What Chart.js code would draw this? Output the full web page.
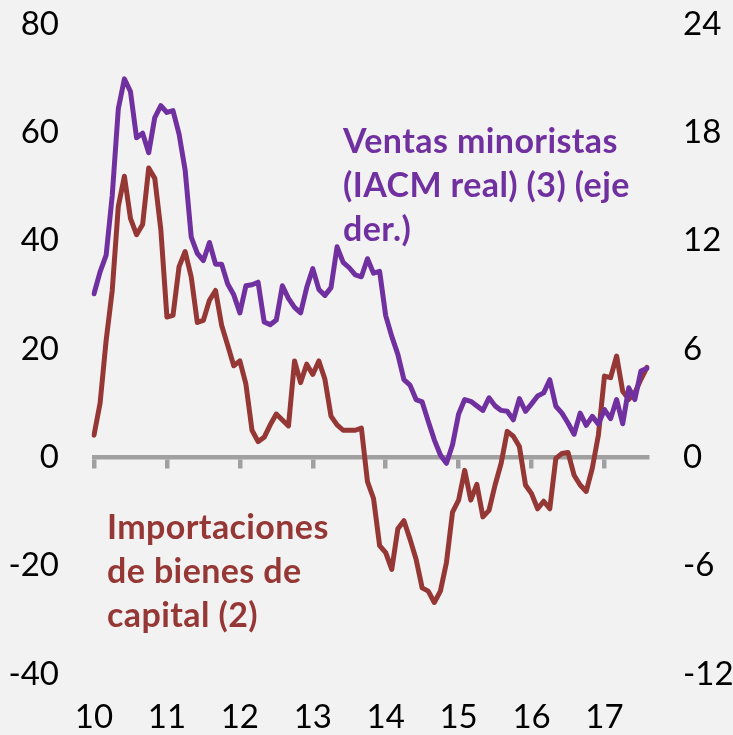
<!DOCTYPE html>
<html>
<head>
<meta charset="utf-8">
<script src="https://cdn.jsdelivr.net/npm/chart.js@4.4.1/dist/chart.umd.min.js"></script>
<style>
  html, body { margin: 0; padding: 0; background: #f2f2f2; }
  #wrap { position: relative; width: 733px; height: 735px; background: #f2f2f2; overflow: hidden; }
  canvas { position: absolute; left: 0; top: 0; }
  .ann { position: absolute; font-family: Lato, "Open Sans", sans-serif; font-weight: bold; font-size: 34px; line-height: 44px; letter-spacing: 0.4px; white-space: nowrap; }
  #annPurple { color: #7030a0; left: 343px; top: 118px; }
  #annRed { color: #953735; left: 107px; top: 504px; }
</style>
</head>
<body>
<div id="wrap">
  <canvas id="c" width="733" height="735"></canvas>
  <div class="ann" id="annPurple">Ventas minoristas<br>(IACM real) (3) (eje<br>der.)</div>
  <div class="ann" id="annRed">Importaciones<br>de bienes de<br>capital (2)</div>
</div>
<script>
// Monthly categories, Jan 2010 - Aug 2017
const months = [
  '2010-01','2010-02','2010-03','2010-04','2010-05','2010-06','2010-07','2010-08','2010-09','2010-10','2010-11','2010-12',
  '2011-01','2011-02','2011-03','2011-04','2011-05','2011-06','2011-07','2011-08','2011-09','2011-10','2011-11','2011-12',
  '2012-01','2012-02','2012-03','2012-04','2012-05','2012-06','2012-07','2012-08','2012-09','2012-10','2012-11','2012-12',
  '2013-01','2013-02','2013-03','2013-04','2013-05','2013-06','2013-07','2013-08','2013-09','2013-10','2013-11','2013-12',
  '2014-01','2014-02','2014-03','2014-04','2014-05','2014-06','2014-07','2014-08','2014-09','2014-10','2014-11','2014-12',
  '2015-01','2015-02','2015-03','2015-04','2015-05','2015-06','2015-07','2015-08','2015-09','2015-10','2015-11','2015-12',
  '2016-01','2016-02','2016-03','2016-04','2016-05','2016-06','2016-07','2016-08','2016-09','2016-10','2016-11','2016-12',
  '2017-01','2017-02','2017-03','2017-04','2017-05','2017-06','2017-07','2017-08'
];

// Year tick labels (shown at each January)
const yearLabels = ['10','11','12','13','14','15','16','17'];

// Left axis ticks / right axis ticks
const leftTicks = [-40, -20, 0, 20, 40, 60, 80];
const rightTicks = [-12, -6, 0, 6, 12, 18, 24];

// Importaciones de bienes de capital (2) — left axis
const importaciones = [
  4.1, 10.0, 21.6, 30.8, 46.3, 51.9, 44.1, 41.1, 43.0, 53.4, 51.5, 42.0,
  25.9, 26.2, 35.2, 38.0, 33.3, 24.9, 25.3, 29.0, 30.8, 24.4, 20.7, 16.9,
  17.8, 13.5, 5.0, 2.9, 3.7, 6.0, 8.0, 6.9, 5.8, 17.8, 13.8, 17.2,
  15.3, 17.8, 14.4, 7.6, 6.0, 5.0, 5.0, 5.0, 5.4, -4.5, -7.6, -16.3,
  -17.6, -20.7, -13.2, -11.7, -15.1, -18.8, -24.1, -24.7, -26.8, -24.7, -19.4, -10.1,
  -7.9, -2.4, -7.9, -5.0, -11.0, -9.8, -5.1, -1.1, 4.8, 3.9, 2.0, -5.1,
  -6.7, -9.5, -8.1, -9.5, -0.2, 0.7, 0.9, -3.3, -5.1, -6.3, -2.0, 4.1,
  15.0, 14.7, 18.7, 12.2, 10.7, 11.9, 14.4, 16.6
];

// Ventas minoristas (IACM real) (3) — right axis
const ventas = [
  9.06, 10.27, 11.2, 14.5, 19.3, 20.96, 20.26, 17.7, 17.95, 16.87, 18.82, 19.48,
  19.1, 19.2, 17.9, 15.9, 12.2, 11.3, 10.9, 11.9, 10.7, 10.7, 9.6, 9.0,
  8.0, 9.5, 9.56, 9.7, 7.5, 7.35, 7.6, 9.5, 8.8, 8.3, 8.0, 9.4,
  10.45, 9.3, 8.97, 9.4, 11.66, 10.8, 10.5, 10.1, 10.0, 11.0, 10.2, 10.3,
  7.85, 6.7, 5.7, 4.3, 4.0, 3.2, 3.07, 2.0, 0.97, 0.13, -0.33, 0.7,
  2.4, 3.2, 3.1, 2.85, 2.6, 3.3, 2.85, 2.6, 2.55, 2.08, 3.25, 2.55,
  2.96, 3.4, 3.57, 4.3, 2.83, 2.45, 1.9, 1.28, 2.45, 1.77, 2.27, 1.84,
  2.64, 2.14, 3.2, 1.86, 3.85, 3.2, 4.78, 4.93
];

const PURPLE = '#7030a0';
const RED = '#953735';
const GRAY = '#a0a0a0';
const TICK_FONT = { family: 'Lato, "Open Sans", sans-serif', size: 33, lineHeight: 1.2 };

new Chart(document.getElementById('c'), {
  type: 'line',
  data: {
    labels: months,
    datasets: [
      {
        label: 'Ventas minoristas (IACM real) (3) (eje der.)',
        data: ventas,
        yAxisID: 'y2',
        xAxisID: 'x',
        borderColor: PURPLE,
        backgroundColor: PURPLE,
        borderWidth: 5,
        pointRadius: 0,
        tension: 0,
        borderJoinStyle: 'round',
        borderCapStyle: 'round',
        fill: false
      },
      {
        label: 'Importaciones de bienes de capital (2)',
        data: importaciones,
        yAxisID: 'y',
        xAxisID: 'x',
        borderColor: RED,
        backgroundColor: RED,
        borderWidth: 5,
        pointRadius: 0,
        tension: 0,
        borderJoinStyle: 'round',
        borderCapStyle: 'round',
        fill: false
      }
    ]
  },
  options: {
    responsive: false,
    animation: false,
    devicePixelRatio: 1,
    layout: { padding: { top: 24, bottom: 0, left: 0, right: 0 } },
    plugins: { legend: { display: false }, tooltip: { enabled: false }, title: { display: false } },
    scales: {
      x: {
        type: 'category',
        position: { y: 0 },
        offset: false,
        grid: {
          drawOnChartArea: false,
          drawTicks: true,
          tickLength: 9,
          lineWidth: 4.5,
          color: (ctx) => (ctx.index % 12 === 0 ? GRAY : 'rgba(0,0,0,0)')
        },
        border: { display: true, color: GRAY, width: 4.5 },
        ticks: { display: false, autoSkip: false }
      },
      xb: {
        type: 'category',
        position: 'bottom',
        offset: false,
        grid: { display: false, drawTicks: false },
        border: { display: false },
        ticks: {
          autoSkip: false,
          maxRotation: 0,
          minRotation: 0,
          padding: 24,
          color: '#000',
          font: TICK_FONT,
          callback: (val, idx) => (idx % 12 === 0 ? yearLabels[idx / 12] : '')
        },
        afterFit: (s) => { s.height = 61; }
      },
      y: {
        position: 'left',
        min: leftTicks[0],
        max: leftTicks[leftTicks.length - 1],
        afterBuildTicks: (s) => { s.ticks = leftTicks.map(v => ({ value: v })); },
        grid: { display: false, drawTicks: true, tickLength: 35 },
        border: { display: false },
        ticks: { color: '#000', font: TICK_FONT, padding: 0 },
        afterFit: (s) => { s.width = 94; }
      },
      y2: {
        position: 'right',
        min: rightTicks[0],
        max: rightTicks[rightTicks.length - 1],
        afterBuildTicks: (s) => { s.ticks = rightTicks.map(v => ({ value: v })); },
        grid: { display: false, drawTicks: true, tickLength: 36 },
        border: { display: false },
        ticks: { color: '#000', font: TICK_FONT, padding: 0 },
        afterFit: (s) => { s.width = 86; }
      }
    }
  }
});
</script>
</body>
</html>
